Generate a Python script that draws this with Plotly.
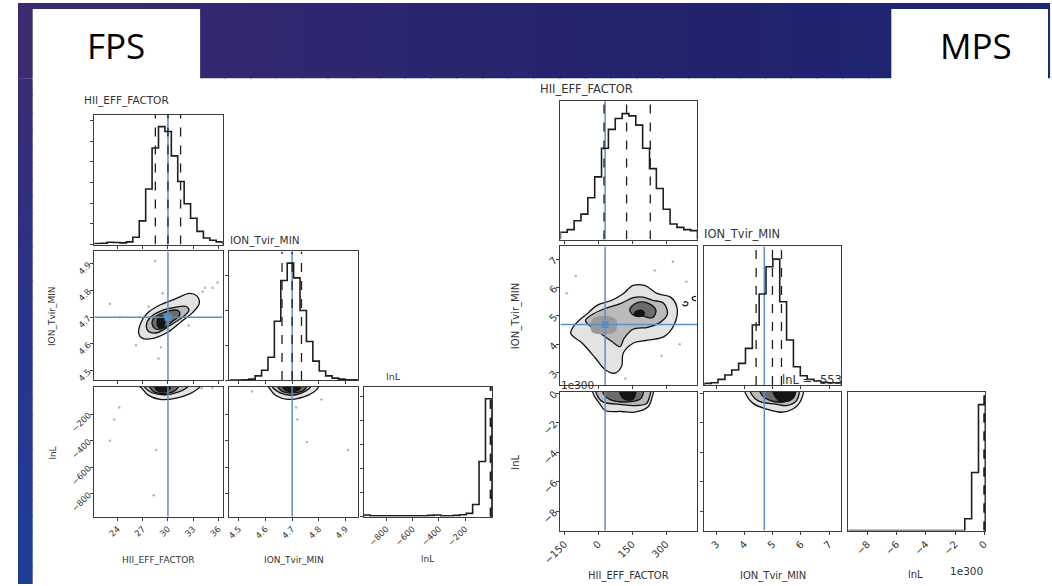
import plotly.graph_objects as go

W, H = 1052, 586

# ----------------------------------------------------------------------------
# values
# ----------------------------------------------------------------------------
truth_hii = 30.0
truth_ion = 4.7

# FPS chain
fps_lim_hii = [21.25, 36.5]
fps_lim_ion = [4.465, 4.946]
fps_lim_lnl = [-972.0, 4.0]
fps_ticks_hii = [24, 27, 30, 33, 36]
fps_ticks_ion = [4.5, 4.6, 4.7, 4.8, 4.9]
fps_ticks_lnl = [-800, -600, -400, -200]
fps_hist_hii = [3, 4, 7, 6, 5, 8, 22, 72, 169, 294, 359, 344, 270, 192, 124, 80, 40, 20, 13, 8]
fps_hist_ion = [0, 0, 1, 3, 13, 30, 70, 180, 305, 358, 313, 213, 118, 58, 28, 13, 6, 3, 1, 1]
fps_hist_lnl = [5, 3, 3, 3, 3, 3, 3, 3, 3, 3, 4, 5, 3, 3, 4, 6, 10, 37, 167, 357]
fps_q_hii = [28.5, 30.0, 31.5]
fps_q_ion = [4.662, 4.700, 4.735]
fps_q_lnl = [-8.0, -5.0, -2.0]

# density contour levels (outer -> core) for the FPS 2-D panels
fps_hii_ion_levels = [
    [(26.53, 4.638), (26.93, 4.622), (28.1, 4.62), (29.85, 4.642), (31.6, 4.684), (32.95, 4.718),
     (33.73, 4.753), (33.42, 4.780), (32.57, 4.789), (30.82, 4.768), (28.87, 4.743), (27.51, 4.714),
     (26.73, 4.676)],
    [(27.43, 4.669), (27.70, 4.647), (28.68, 4.642), (30.23, 4.669), (31.98, 4.706), (32.49, 4.725),
     (32.18, 4.740), (30.82, 4.737), (29.27, 4.725), (27.90, 4.700)],
    [(28.1, 4.676), (28.48, 4.657), (29.27, 4.657), (30.43, 4.682), (31.4, 4.709), (31.2, 4.725),
     (30.23, 4.725), (29.07, 4.712), (28.29, 4.696)],
    [(28.7, 4.680), (28.9, 4.662), (29.3, 4.658), (29.6, 4.675), (29.6, 4.695), (29.3, 4.705),
     (28.9, 4.700)],
]
fps_hii_lnl_levels = [
    [(26.6, 12), (26.9, -5), (27.7, -59), (29.07, -89), (31.0, -79), (32.57, -47), (33.54, -10), (33.8, 12)],
    [(27.2, 12), (27.3, -3), (28.1, -39), (29.65, -54), (31.2, -34), (32.2, -3), (32.4, 12)],
    [(27.8, 12), (27.9, -5), (28.4, -35), (29.9, -42), (30.9, -20), (31.2, 12)],
    [(28.45, 12), (28.5, -5), (28.8, -25), (29.8, -28), (30.2, -10), (30.25, 12)],
]
fps_ion_lnl_levels = [
    [(4.61, 12), (4.615, -5), (4.639, -60), (4.683, -89), (4.744, -70), (4.78, -35), (4.794, -10), (4.80, 12)],
    [(4.625, 12), (4.63, -5), (4.655, -40), (4.695, -58), (4.735, -42), (4.765, -5), (4.77, 12)],
    [(4.645, 12), (4.65, -5), (4.665, -30), (4.705, -40), (4.745, -18), (4.752, 12)],
    [(4.665, 12), (4.667, -5), (4.68, -25), (4.71, -28), (4.728, -12), (4.73, 12)],
]
fps_hii_ion_pts_x = [28.48, 23.1, 24.27, 29.37, 27.7, 34.12, 35.3, 35.9, 28.87, 29.17, 32.47, 26.2, 34.4]
fps_hii_ion_pts_y = [4.91, 4.75, 4.70, 4.79, 4.74, 4.795, 4.81, 4.83, 4.546, 4.588, 4.669, 4.595, 4.81]
fps_hii_lnl_pts_x = [24.2, 23.6, 23.1, 28.6, 28.3, 34.0, 35.3]
fps_hii_lnl_pts_y = [-150, -240, -400, -470, -810, -6, -4]
fps_ion_lnl_pts_x = [4.55, 4.715, 4.72, 4.755, 4.91, 4.81]
fps_ion_lnl_pts_y = [-30, -150, -240, -410, -470, -90]

# MPS chain (lnL in units of 1e300)
lnl_scale_label = "1e300"
mps_lim_hii = [-168.0, 439.0]
mps_lim_ion = [2.57, 7.44]
mps_lim_lnl = [-9.3, 0.07]
mps_ticks_hii = [-150, 0, 150, 300]
mps_ticks_ion = [3, 4, 5, 6, 7]
mps_ticks_lnl = [-8, -6, -4, -2, 0]
mps_hist_hii = [22, 30, 57, 77, 127, 190, 277, 334, 367, 382, 375, 347, 277, 215, 155, 92, 47, 37, 30, 27]
mps_hist_ion = [5, 7, 17, 30, 45, 65, 110, 180, 273, 355, 378, 250, 135, 55, 28, 17, 12, 8, 7, 7]
mps_hist_lnl = [0, 0, 0, 0, 0, 0, 0, 0, 0, 0, 0, 0, 0, 0, 0, 0, 0, 12, 59, 128]
mps_q_hii = [25.0, 125.0, 230.0]
mps_q_ion = [4.41, 4.99, 5.31]
mps_q_lnl = [-0.004, -0.002, -0.001]
mps_title_lnl = "lnL = -553"

mps_hii_ion_levels = [
    [(-122, 4.39), (-71, 4.04), (-13, 3.52), (30, 3.11), (74, 2.99), (103, 3.23), (110, 3.69),
     (154, 4.04), (219, 4.15), (291, 4.27), (335, 4.68), (349, 5.26), (320, 5.66), (262, 5.78),
     (204, 6.07), (154, 6.07), (110, 5.78), (60, 5.55), (-6, 5.37), (-49, 5.08), (-100, 4.73)],
    [(-57, 4.83), (9, 4.39), (60, 4.10), (96, 3.92), (114, 4.21), (154, 4.53), (219, 4.60),
     (277, 4.79), (306, 5.08), (288, 5.45), (240, 5.55), (197, 5.66), (154, 5.64), (103, 5.45),
     (30, 5.26), (-25, 5.06)],
    [(139, 5.22), (168, 5.45), (219, 5.45), (255, 5.20), (240, 4.94), (197, 4.99), (158, 5.02)],
    [(160, 5.10), (175, 5.19), (198, 5.17), (203, 5.05), (185, 4.98), (165, 5.01)],
]
mps_hii_ion_islands = [
    [(372, 5.40), (385, 5.35), (397, 5.42), (390, 5.50), (377, 5.48)],
    [(432, 5.53), (418, 5.57), (417, 5.65), (433, 5.69)],
]
mps_hii_ion_patch = [(-30, 4.45), (20, 4.35), (75, 4.45), (80, 4.85), (40, 5.0), (-25, 4.9)]
mps_hii_lnl_levels = [
    [(-25, 0.4), (-20, -0.13), (5, -0.7), (30, -1.18), (103, -1.25), (161, -1.29), (219, -0.95),
     (236, -0.4), (240, 0.4)],
    [(-10, 0.4), (-6, -0.13), (20, -0.6), (103, -0.78), (154, -0.85), (212, -0.73), (226, -0.3), (228, 0.4)],
    [(20, 0.4), (25, -0.1), (60, -0.5), (150, -0.58), (190, -0.35), (195, 0.4)],
    [(95, 0.4), (98, -0.1), (115, -0.42), (150, -0.45), (162, -0.2), (162, 0.4)],
]
mps_ion_lnl_levels = [
    [(4.0, 0.4), (4.06, -0.13), (4.3, -0.7), (4.8, -1.1), (5.3, -1.3), (5.7, -1.1), (6.0, -0.5), (6.05, 0.4)],
    [(4.2, 0.4), (4.25, -0.1), (4.5, -0.55), (5.1, -0.75), (5.5, -0.85), (5.85, -0.5), (5.9, 0.4)],
    [(4.55, 0.4), (4.6, -0.1), (4.9, -0.5), (5.4, -0.6), (5.75, -0.3), (5.78, 0.4)],
    [(5.0, 0.4), (5.05, -0.1), (5.25, -0.55), (5.6, -0.5), (5.75, -0.15), (5.75, 0.4)],
]
mps_hii_ion_pts_x = [-100, 250, 330, 360, 60, 120, 280, -140, 390]
mps_hii_ion_pts_y = [6.4, 6.6, 6.9, 4.0, 3.2, 2.8, 3.6, 5.8, 6.2]

# ----------------------------------------------------------------------------
# styling
# ----------------------------------------------------------------------------
TXT = "#333333"
AX = "#3c3c3c"
BLUE = "#5b8fc7"
FONT = "DejaVu Sans"
LEVEL_FILL = ["#e3e3e3", "#bababa", "#6c6c6c", "#151515"]

fig = go.Figure()
shapes = []
annotations = []


def lerp(c0, c1, t):
    return "rgb(%d,%d,%d)" % tuple(round(a + (b - a) * t) for a, b in zip(c0, c1))


def grad(stops, t):
    for (t0, c0), (t1, c1) in zip(stops[:-1], stops[1:]):
        if t <= t1:
            return lerp(c0, c1, (t - t0) / (t1 - t0))
    return lerp(stops[-1][1], stops[-1][1], 0)


# slide background: dark band at the top and a thin strip on the left
band = [(0.0, (60, 44, 112)), (0.3, (45, 38, 112)), (0.7, (33, 35, 110)), (1.0, (30, 40, 118))]
n = 40
for i in range(n):
    shapes.append(dict(type="rect", xref="paper", yref="paper", layer="below",
                       x0=i / n, x1=(i + 1) / n + 0.002, y0=1 - 76 / H, y1=1,
                       line=dict(width=0), fillcolor=grad(band, (i + 0.5) / n)))
side = [(0.0, (56, 44, 116)), (0.5, (40, 52, 140)), (1.0, (30, 62, 150))]
m = 30
for i in range(m):
    y0 = 76 + (H - 76) * i / m
    y1 = 76 + (H - 76) * (i + 1) / m + 1
    shapes.append(dict(type="rect", xref="paper", yref="paper", layer="below",
                       x0=0, x1=15 / W, y0=1 - y1 / H, y1=1 - y0 / H,
                       line=dict(width=0), fillcolor=grad(side, (i + 0.5) / m)))
for bx0, by0, bx1, by1 in [(15, 6, 186, 77), (892, 6, 1052, 77)]:
    shapes.append(dict(type="rect", xref="paper", yref="paper", layer="below",
                       x0=bx0 / W, x1=bx1 / W, y0=1 - by1 / H, y1=1 - by0 / H,
                       line=dict(width=0), fillcolor="white"))


def ann(text, px, py, size, xanchor="center", yanchor="middle", angle=0, family=FONT, color=TXT):
    annotations.append(dict(text=text, x=px / W, y=1 - py / H, xref="paper", yref="paper",
                            xanchor=xanchor, yanchor=yanchor, showarrow=False, textangle=angle,
                            font=dict(family=family, size=size, color=color)))


ann("FPS", 100, 43, 35, family="Open Sans", color="black")
ann("MPS", 978, 43, 35, family="Open Sans", color="black")

axis_count = [0]


def panel(box_x, box_y, xr, yr, xticks, yticks, xlabels, ylabels, size, ydtick=None):
    axis_count[0] += 1
    k = axis_count[0]
    sfx = "" if k == 1 else str(k)
    common = dict(showline=True, mirror=True, linecolor=AX, linewidth=1,
                  ticks="outside", ticklen=3, tickwidth=1, tickcolor=AX,
                  showgrid=False, zeroline=False, tickangle=-45, fixedrange=True,
                  tickfont=dict(family=FONT, size=size, color=TXT))
    xa = dict(common, domain=[box_x[0] / W, box_x[1] / W], range=xr, anchor="y" + sfx,
              tickvals=xticks, showticklabels=xlabels)
    ya = dict(common, domain=[1 - box_y[1] / H, 1 - box_y[0] / H], range=yr, anchor="x" + sfx,
              showticklabels=ylabels)
    if yticks == "none":
        ya["ticks"] = ""
    elif yticks == "dtick":
        ya.update(tickmode="linear", tick0=0, dtick=ydtick)
    else:
        ya["tickvals"] = yticks
    fig.update_layout(**{"xaxis" + sfx: xa, "yaxis" + sfx: ya})
    return "x" + sfx, "y" + sfx


def step_hist(xa, ya, lim, counts, quants, truth, ymax):
    nb = len(counts)
    edges = [lim[0] + (lim[1] - lim[0]) * i / nb for i in range(nb + 1)]
    xs = [edges[0]] + edges[:-1] + [edges[-1], edges[-1]]
    ys = [0] + list(counts) + [counts[-1], 0]
    if truth is not None:
        fig.add_trace(go.Scatter(x=[truth, truth], y=[0, ymax], mode="lines", xaxis=xa, yaxis=ya,
                                 line=dict(color=BLUE, width=1.5), hoverinfo="skip"))
    fig.add_trace(go.Scatter(x=xs, y=ys, mode="lines", line_shape="hv", xaxis=xa, yaxis=ya,
                             line=dict(color="#1e1e1e", width=1.6), hoverinfo="skip"))
    for q in quants:
        fig.add_trace(go.Scatter(x=[q, q], y=[0, ymax], mode="lines", xaxis=xa, yaxis=ya,
                                 line=dict(color="#1e1e1e", width=1.3, dash="dash"), hoverinfo="skip"))


def density(xa, ya, levels, px=None, py=None, patch=None):
    if px is not None:
        fig.add_trace(go.Scatter(x=px, y=py, mode="markers", xaxis=xa, yaxis=ya,
                                 marker=dict(size=2.5, color="rgba(0,0,0,0.3)"), hoverinfo="skip"))
    for i, lev in enumerate(levels):
        xs = [p[0] for p in lev] + [lev[0][0]]
        ys = [p[1] for p in lev] + [lev[0][1]]
        fig.add_trace(go.Scatter(x=xs, y=ys, mode="lines", fill="toself", fillcolor=LEVEL_FILL[i],
                                 line=dict(color="#111111", width=1.3, shape="spline", smoothing=1.0),
                                 xaxis=xa, yaxis=ya, hoverinfo="skip"))
        if i == 1 and patch is not None:
            fig.add_trace(go.Scatter(x=[p[0] for p in patch] + [patch[0][0]],
                                     y=[p[1] for p in patch] + [patch[0][1]],
                                     mode="lines", fill="toself", fillcolor="#9a9a9a",
                                     line=dict(width=0, shape="spline"), xaxis=xa, yaxis=ya,
                                     hoverinfo="skip"))


def truth_lines(xa, ya, xr, yr, tx=None, ty=None):
    if tx is not None:
        fig.add_trace(go.Scatter(x=[tx, tx], y=yr, mode="lines", xaxis=xa, yaxis=ya,
                                 line=dict(color=BLUE, width=1.5), hoverinfo="skip"))
    if ty is not None:
        fig.add_trace(go.Scatter(x=xr, y=[ty, ty], mode="lines", xaxis=xa, yaxis=ya,
                                 line=dict(color=BLUE, width=1.5), hoverinfo="skip"))
    if tx is not None and ty is not None:
        fig.add_trace(go.Scatter(x=[tx], y=[ty], mode="markers", xaxis=xa, yaxis=ya,
                                 marker=dict(symbol="square", size=7, color=BLUE), hoverinfo="skip"))


# ----------------------------------------------------------------------------
# FPS corner
# ----------------------------------------------------------------------------
FX = [(78, 209), (216, 347), (353, 484)]
FY = [(113, 244), (251, 381), (388, 519)]
fs = 8.5

ym = 1.1 * max(fps_hist_hii)
xa, ya = panel(FX[0], FY[0], fps_lim_hii, [0, ym], fps_ticks_hii, "dtick", False, False, fs, ydtick=63)
step_hist(xa, ya, fps_lim_hii, fps_hist_hii, fps_q_hii, truth_hii, ym)

xa, ya = panel(FX[0], FY[1], fps_lim_hii, fps_lim_ion, fps_ticks_hii, fps_ticks_ion, False, True, fs)
density(xa, ya, fps_hii_ion_levels, fps_hii_ion_pts_x, fps_hii_ion_pts_y)
truth_lines(xa, ya, fps_lim_hii, fps_lim_ion, truth_hii, truth_ion)

ym = 1.1 * max(fps_hist_ion)
xa, ya = panel(FX[1], FY[1], fps_lim_ion, [0, ym], fps_ticks_ion, "dtick", False, False, fs, ydtick=107)
step_hist(xa, ya, fps_lim_ion, fps_hist_ion, fps_q_ion, truth_ion, ym)

xa, ya = panel(FX[0], FY[2], fps_lim_hii, fps_lim_lnl, fps_ticks_hii, fps_ticks_lnl, True, True, fs)
density(xa, ya, fps_hii_lnl_levels, fps_hii_lnl_pts_x, fps_hii_lnl_pts_y)
truth_lines(xa, ya, fps_lim_hii, fps_lim_lnl, truth_hii, None)

xa, ya = panel(FX[1], FY[2], fps_lim_ion, fps_lim_lnl, fps_ticks_ion, fps_ticks_lnl, True, False, fs)
density(xa, ya, fps_ion_lnl_levels, fps_ion_lnl_pts_x, fps_ion_lnl_pts_y)
truth_lines(xa, ya, fps_lim_ion, fps_lim_lnl, truth_ion, None)

ym = 1.1 * max(fps_hist_lnl)
xa, ya = panel(FX[2], FY[2], fps_lim_lnl, [0, ym], fps_ticks_lnl, "dtick", True, False, fs, ydtick=73)
step_hist(xa, ya, fps_lim_lnl, fps_hist_lnl, fps_q_lnl, None, ym)

ann("HII_EFF_FACTOR", 65, 99, 10.5, xanchor="left")
ann("ION_Tvir_MIN", 214, 240, 10.5, xanchor="left")
ann("lnL", 374, 377, 9.5, xanchor="left")
ann("HII_EFF_FACTOR", 144, 563, 9)
ann("ION_Tvir_MIN", 282, 563, 9)
ann("lnL", 418, 562, 9)
ann("ION_Tvir_MIN", 34, 316, 9, angle=-90)
ann("lnL", 36, 455, 9, angle=-90)

# ----------------------------------------------------------------------------
# MPS corner
# ----------------------------------------------------------------------------
MX = [(554, 694), (701, 841), (848, 988)]
MY = [(99, 239), (246, 386), (393, 533)]
ms = 10

ym = 1.1 * max(mps_hist_hii)
xa, ya = panel(MX[0], MY[0], mps_lim_hii, [0, ym], mps_ticks_hii, "none", False, False, ms)
step_hist(xa, ya, mps_lim_hii, mps_hist_hii, mps_q_hii, truth_hii, ym)

xa, ya = panel(MX[0], MY[1], mps_lim_hii, mps_lim_ion, mps_ticks_hii, mps_ticks_ion, False, True, ms)
density(xa, ya, mps_hii_ion_levels, mps_hii_ion_pts_x, mps_hii_ion_pts_y, patch=mps_hii_ion_patch)
for isl in mps_hii_ion_islands:
    fig.add_trace(go.Scatter(x=[p[0] for p in isl], y=[p[1] for p in isl], mode="lines",
                             line=dict(color="#111111", width=1.2, shape="spline"),
                             xaxis=xa, yaxis=ya, hoverinfo="skip"))
truth_lines(xa, ya, mps_lim_hii, mps_lim_ion, truth_hii, truth_ion)

ym = 1.1 * max(mps_hist_ion)
xa, ya = panel(MX[1], MY[1], mps_lim_ion, [0, ym], mps_ticks_ion, "none", False, False, ms)
step_hist(xa, ya, mps_lim_ion, mps_hist_ion, mps_q_ion, truth_ion, ym)

xa, ya = panel(MX[0], MY[2], mps_lim_hii, mps_lim_lnl, mps_ticks_hii, mps_ticks_lnl, True, True, ms)
density(xa, ya, mps_hii_lnl_levels)
truth_lines(xa, ya, mps_lim_hii, mps_lim_lnl, truth_hii, None)

xa, ya = panel(MX[1], MY[2], mps_lim_ion, mps_lim_lnl, mps_ticks_ion, mps_ticks_lnl, True, False, ms)
density(xa, ya, mps_ion_lnl_levels)
truth_lines(xa, ya, mps_lim_ion, mps_lim_lnl, truth_ion, None)

ym = 1.1 * max(mps_hist_lnl)
xa, ya = panel(MX[2], MY[2], mps_lim_lnl, [0, ym], mps_ticks_lnl, "none", True, False, ms)
step_hist(xa, ya, mps_lim_lnl, mps_hist_lnl, mps_q_lnl, None, ym)

ann("HII_EFF_FACTOR", 531, 87, 11.5, xanchor="left")
ann("ION_Tvir_MIN", 699, 233, 11.5, xanchor="left")
ann(mps_title_lnl, 778, 381, 11.5, xanchor="left")
ann(lnl_scale_label, 553, 386, 10.5, xanchor="left")
ann(lnl_scale_label, 988, 574, 10.5, xanchor="right")
ann("HII_EFF_FACTOR", 624, 579, 10)
ann("ION_Tvir_MIN", 771, 579, 10)
ann("lnL", 917, 577, 10)
ann("ION_Tvir_MIN", 508, 316, 10, angle=-90)
ann("lnL", 508, 464, 10, angle=-90)

fig.update_layout(width=W, height=H, margin=dict(l=0, r=0, t=0, b=0),
                  paper_bgcolor="white", plot_bgcolor="white", showlegend=False,
                  shapes=shapes, annotations=annotations)

fig.write_html("out.html", config={"displayModeBar": False},
               post_script="document.body.style.margin='0px';"
                           "document.body.style.overflow='hidden';")
